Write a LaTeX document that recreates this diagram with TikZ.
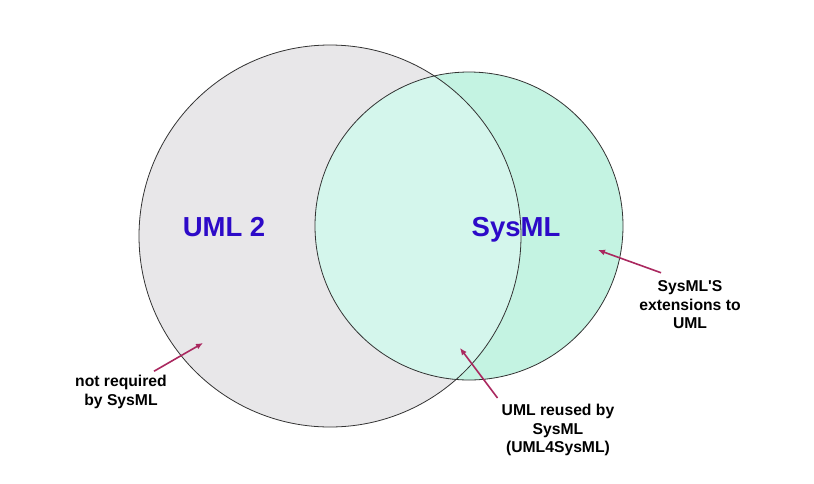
\documentclass[tikz,border=0pt]{standalone}
\usepackage{fontspec}
\setmainfont{Liberation Sans}
\usetikzlibrary{positioning,arrows.meta,calc}

\definecolor{umlcinza}{RGB}{232,231,233}
\definecolor{sysverde}{RGB}{196,243,226}
\definecolor{sysclaro}{RGB}{212,246,236}
\definecolor{rotuloazul}{RGB}{45,10,200}
\definecolor{setarosa}{RGB}{170,40,95}

\begin{document}
\begin{tikzpicture}[x=1pt,y=-1pt,
    conjunto/.style={draw=black!80, line width=0.8pt},
    titulo/.style={font=\fontsize{27.5}{30}\selectfont\bfseries, text=rotuloazul, anchor=base, inner sep=0pt},
    nota/.style={font=\fontsize{15.7}{18.5}\selectfont\bfseries, align=center, inner sep=1pt},
    seta/.style={-{Latex[length=7pt,width=6pt]}, line width=1.6pt, draw=setarosa}]

        \useasboundingbox (0,0) rectangle (814,483);

        % Conjuntos
        \fill[umlcinza] (330,236) circle (191);
        \fill[sysverde] (469,226) circle (154);
        \begin{scope}
            \clip (330,236) circle (191);
            \fill[sysclaro] (469,226) circle (154);
        \end{scope}
        \draw[conjunto] (330,236) circle (191);
        \draw[conjunto] (469,226) circle (154);

        % Titulos
        \node[titulo] (uml) at (224,236) {UML 2};
        \node[titulo] (sysml) at (516,236) {SysML};

        % Notas
        \node[nota] (naoreq) at (121,392) {not required\\by SysML};
        \node[nota] (extensoes) at (690,305) {SysML\textquotesingle S\\extensions to\\UML};
        \node[nota] (reuso) at (558,430) {UML reused by\\SysML\\(UML4SysML)};

        % Setas
        \coordinate (alvoA) at (203,343);
        \coordinate (alvoB) at (598,250);
        \coordinate (alvoC) at (460,348);
        \draw[seta] ([xshift=-14pt,yshift=3pt]naoreq.north east) -- (alvoA);
        \draw[seta] ([xshift=-29pt,yshift=7pt]extensoes.north) -- (alvoB);
        \draw[seta] ([xshift=-3pt,yshift=5pt]reuso.north west) -- (alvoC);

    \end{tikzpicture}
\end{document}
